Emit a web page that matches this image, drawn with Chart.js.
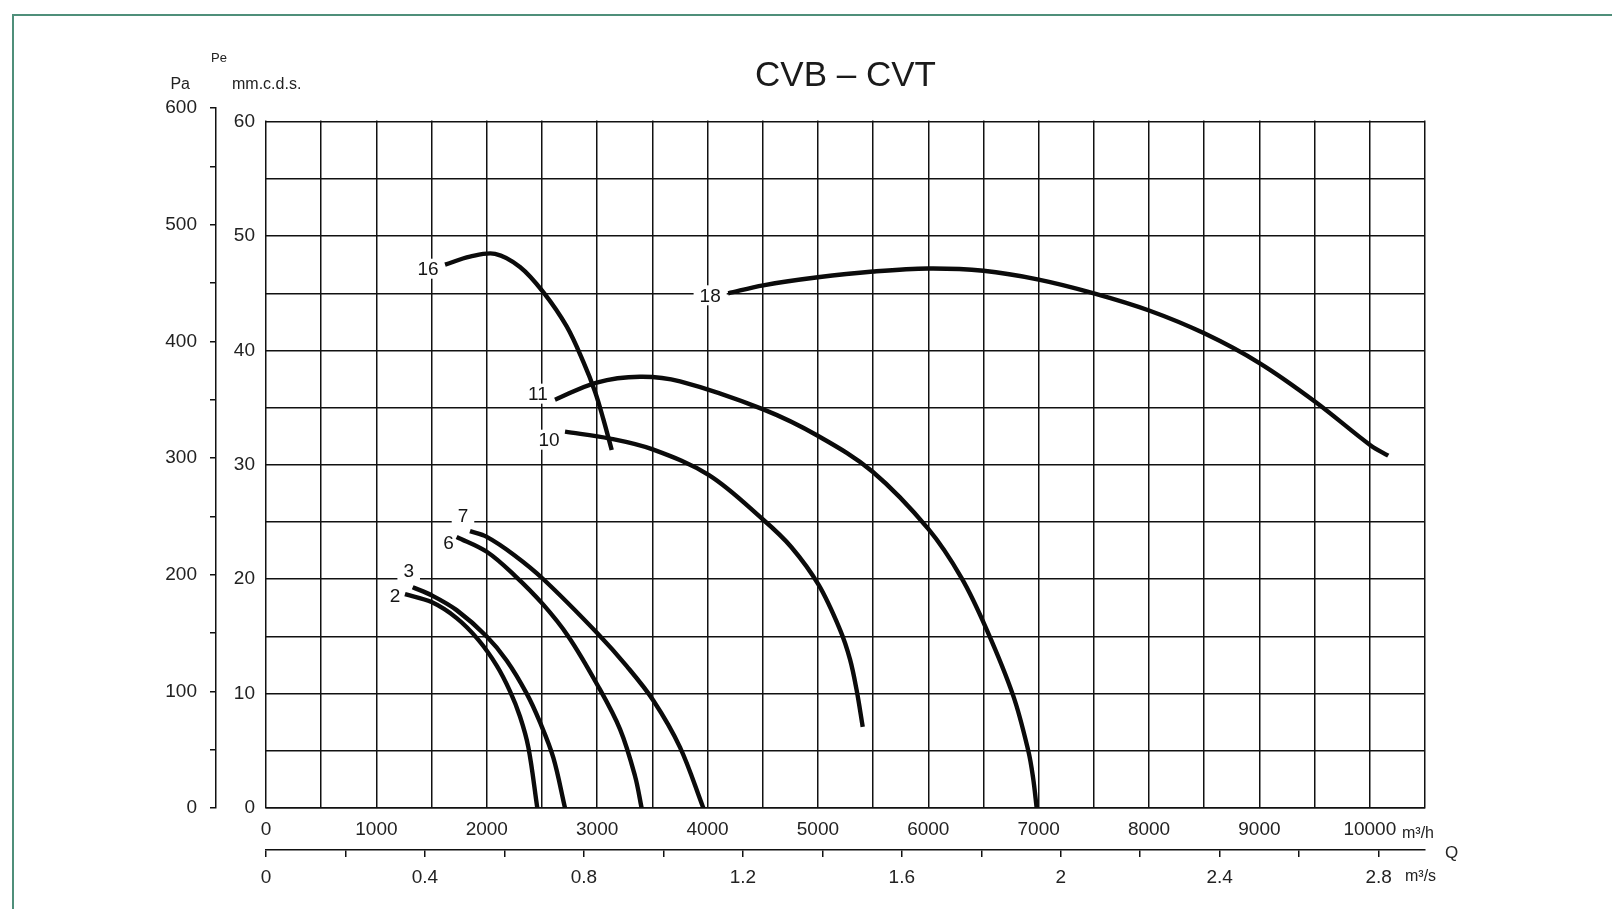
<!DOCTYPE html>
<html>
<head>
<meta charset="utf-8">
<script src="https://cdn.jsdelivr.net/npm/chart.js@4/dist/chart.umd.min.js"></script>
<style>
html,body{margin:0;padding:0;background:#fff;}
#wrap{position:relative;width:1612px;height:909px;overflow:hidden;}
#frame{position:absolute;left:12px;top:14px;right:-4px;bottom:-4px;border-top:2px solid #4f8f7a;border-left:2px solid #4f8f7a;pointer-events:none;}
</style>
</head>
<body>
<div id="wrap"><canvas id="c"></canvas><div id="frame"></div></div>
<script>
// ---- data (Q in m3/h, static pressure in mm w.c.) ----
const curveNames = ['2','3','6','7','10','11','16','18'];
const q2  = [1259, 1500, 1727, 1924, 2090, 2211, 2301, 2377, 2458];
const p2  = [18.7, 18.0, 16.6, 14.7, 12.45, 10.2, 8.0, 5.3, 0];
const q3  = [1329, 1500, 1727, 2000, 2180, 2362, 2482, 2603, 2709];
const p3  = [19.3, 18.6, 17.3, 15.0, 12.9, 10.0, 7.5, 4.4, 0];
const q6  = [1727, 2000, 2256, 2510, 2739, 3000, 3207, 3343, 3403];
const p6  = [23.7, 22.4, 20.3, 17.8, 15.0, 10.8, 6.9, 2.8, 0];
const q7  = [1848, 2000, 2250, 2513, 3000, 3268, 3509, 3751, 3962];
const p7  = [24.2, 23.7, 22.1, 20.0, 15.3, 12.4, 9.4, 5.3, 0];
const q10 = [2709, 3116, 3503, 4013, 4505, 4760, 5007, 5200, 5291, 5351, 5406];
const p10 = [32.9, 32.3, 31.35, 29.1, 25.2, 22.8, 19.5, 15.6, 13.0, 10.3, 7.1];
const q11 = [2618, 2996, 3388, 3751, 4505, 5007, 5496, 6000, 6302, 6529, 6770, 6906, 6950, 6982];
const p11 = [35.7, 37.2, 37.7, 37.3, 34.85, 32.5, 29.4, 24.4, 20.1, 15.6, 9.8, 5.0, 2.6, 0];
const q16 = [1622, 1848, 2075, 2301, 2512, 2724, 2875, 2981, 3056, 3132];
const p16 = [47.5, 48.2, 48.45, 47.3, 45.1, 42.1, 39.0, 36.4, 34.0, 31.3];
const q18 = [4187, 4505, 5000, 5500, 6000, 6500, 7000, 7500, 8000, 8500, 9000, 9508, 10008, 10167];
const p18 = [45.0, 45.7, 46.4, 46.9, 47.17, 46.97, 46.2, 45.0, 43.5, 41.5, 38.9, 35.5, 31.7, 30.8];

// ---- ticks ----
const qTicks  = [0,500,1000,1500,2000,2500,3000,3500,4000,4500,5000,5500,6000,6500,7000,7500,8000,8500,9000,9500,10000,10500];
const qsTicks = [0,0.2,0.4,0.6,0.8,1,1.2,1.4,1.6,1.8,2,2.2,2.4,2.6,2.8];
const mmTicks = [0,5,10,15,20,25,30,35,40,45,50,55,60];
const paTicks = [0,50,100,150,200,250,300,350,400,450,500,550,600];
const PA_PER_MM = 9.80665;
const SECONDS_PER_HOUR = 3600;

const seriesQ = [q2,q3,q6,q7,q10,q11,q16,q18];
const seriesP = [p2,p3,p6,p7,p10,p11,p16,p18];

Chart.defaults.font.family = '"Liberation Sans", Arial, sans-serif';
Chart.defaults.color = '#222';

// label placement relative to each curve's first point (pixels)
const labelShift = {'2':[-10,2],'3':[-4,-16],'6':[-8,6],'7':[-7,-15],'10':[-16,8],'11':[-17,-6],'16':[-17,4],'18':[-18,2]};

const deco = {
  id: 'deco',
  beforeDatasetsDraw(chart) {
    const {ctx, chartArea: a, scales: {x, y}} = chart;
    const top = y.getPixelForValue(mmTicks[mmTicks.length - 1]);
    ctx.save();
    ctx.fillStyle = '#fff';
    ctx.fillRect(a.left - 3, a.top - 2, a.right - a.left + 6, top - a.top + 0.8);
    ctx.font = '19px "Liberation Sans", Arial, sans-serif';
    ctx.textAlign = 'center';
    ctx.textBaseline = 'middle';
    curveNames.forEach((n, i) => {
      const sh = labelShift[n];
      const px = x.getPixelForValue(seriesQ[i][0]) + sh[0];
      const py = y.getPixelForValue(seriesP[i][0]) + sh[1];
      const w = ctx.measureText(n).width;
      ctx.fillStyle = '#fff';
      ctx.fillRect(px - w / 2 - 6, py - 10, w + 12, 20);
      ctx.fillStyle = '#151515';
      ctx.fillText(n, px, py + 1);
    });
    ctx.restore();
  },
  afterDraw(chart) {
    const {ctx, chartArea: a, scales: {x, x2, y, yPa}} = chart;
    ctx.save();
    ctx.fillStyle = '#222';
    ctx.textBaseline = 'middle';
    ctx.font = '13px "Liberation Sans", Arial, sans-serif';
    ctx.textAlign = 'center';
    ctx.fillText('Pe', yPa.right + 3, a.top - 50);
    ctx.font = '16px "Liberation Sans", Arial, sans-serif';
    ctx.textAlign = 'right';
    ctx.fillText('Pa', yPa.right - 26, a.top - 24);
    ctx.textAlign = 'left';
    ctx.fillText('mm.c.d.s.', y.left + 16, a.top - 24);
    ctx.fillText('m\u00b3/h', x.right - 23, x.top + 26);
    ctx.fillText('m\u00b3/s', x.right - 20, x2.top + 27);
    ctx.font = '17px "Liberation Sans", Arial, sans-serif';
    ctx.fillText('Q', x.right + 20, x2.top + 3);
    ctx.restore();
  }
};

const gridColor = '#111';
const last = arr => arr[arr.length - 1];

new Chart(document.getElementById('c'), {
  type: 'scatter',
  data: {
    datasets: seriesQ.map((q, i) => ({
      label: curveNames[i],
      data: q.map((v, j) => ({x: v, y: seriesP[i][j]})),
      showLine: true,
      borderColor: '#0b0b0b',
      borderWidth: 4.4,
      pointRadius: 0,
      tension: 0.35,
      fill: false,
      xAxisID: 'x',
      yAxisID: 'y'
    }))
  },
  options: {
    responsive: true,
    maintainAspectRatio: false,
    animation: false,
    events: [],
    layout: {padding: {left: 140, right: 187, top: 55.6, bottom: 21}},
    plugins: {
      legend: {display: false},
      tooltip: {enabled: false},
      title: {
        display: true,
        text: 'CVB \u2013 CVT',
        fullSize: false,
        color: '#1a1a1a',
        font: {size: 35, weight: 'normal'},
        padding: {top: 0, bottom: 10.6}
      }
    },
    scales: {
      x: {
        type: 'linear', position: 'bottom', weight: 0,
        min: 0, max: last(qTicks),
        afterBuildTicks: s => { s.ticks = qTicks.map(v => ({value: v})); },
        afterFit: s => { s.height = 42; },
        grid: {color: gridColor, lineWidth: 1.5, drawTicks: false},
        border: {display: true, color: gridColor, width: 1.5},
        ticks: {autoSkip: false, maxRotation: 0, padding: 10, font: {size: 19},
          callback: v => (v % 1000 === 0 ? String(v) : '')}
      },
      x2: {
        type: 'linear', position: 'bottom', weight: 1,
        min: 0, max: last(qTicks) / SECONDS_PER_HOUR,
        afterBuildTicks: s => { s.ticks = qsTicks.map(v => ({value: v})); },
        afterFit: s => { s.height = 38; },
        grid: {drawOnChartArea: false, drawTicks: true, tickLength: 7, color: gridColor, lineWidth: 1.5},
        border: {display: true, color: gridColor, width: 1.5},
        ticks: {autoSkip: false, maxRotation: 0, padding: 9, font: {size: 19},
          callback: v => (Math.round(v * 10) % 4 === 0 ? String(v) : '')}
      },
      y: {
        type: 'linear', position: 'left', weight: 0,
        min: 0, max: last(paTicks) / PA_PER_MM,
        afterBuildTicks: s => { s.ticks = mmTicks.map(v => ({value: v})); },
        afterFit: s => { s.width = 50; },
        grid: {color: gridColor, lineWidth: 1.5, drawTicks: false},
        border: {display: false},
        ticks: {autoSkip: false, padding: 11, font: {size: 19},
          callback: v => (v % 10 === 0 ? String(v) : '')}
      },
      yPa: {
        type: 'linear', position: 'left', weight: 1,
        min: 0, max: last(paTicks),
        afterBuildTicks: s => { s.ticks = paTicks.map(v => ({value: v})); },
        afterFit: s => { s.width = 76; },
        grid: {drawOnChartArea: false, drawTicks: true, tickLength: 6, color: gridColor, lineWidth: 1.5},
        border: {display: true, color: gridColor, width: 1.5},
        ticks: {autoSkip: false, padding: 13, font: {size: 19},
          callback: v => (v % 100 === 0 ? String(v) : '')}
      }
    }
  },
  plugins: [deco]
});
</script>
</body>
</html>
